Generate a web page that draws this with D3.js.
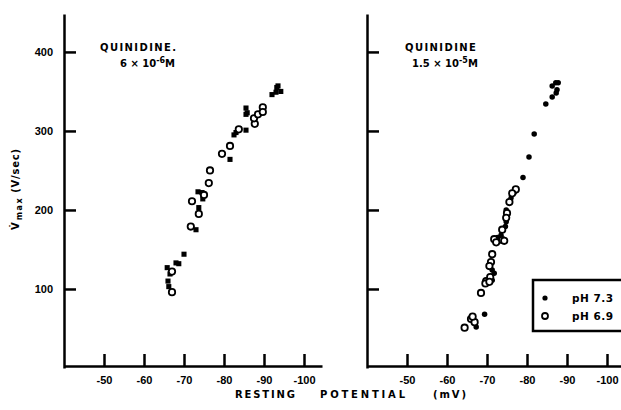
<!DOCTYPE html>
<meta charset="utf-8">
<script src="https://d3js.org/d3.v7.min.js"></script>
<style type="text/css">
body { margin: 0; background: #fff; }
.axis path, .axis line { stroke: #000; stroke-width: 2.5px; }
.axis text { font-family: "Liberation Sans", Arial, sans-serif; font-weight: bold; font-size: 11px; fill: #000; }
.note, .xlabel, .ylabel, .legend text { font-family: "DejaVu Sans", sans-serif; font-weight: bold; fill: #000; }
</style>
<body></body>
<script>

// resting potential (mV), Vmax (V/sec)
var xTicks = [-50, -60, -70, -80, -90, -100];
var yTicks = [100, 200, 300, 400];

// quinidine 6e-6 M
var leftPH73 = [
  [-65.8, 127], [-66, 110], [-66.2, 103], [-66.5, 119], [-68, 133], [-68.7, 132],
  [-70, 144], [-73, 175], [-73.5, 223], [-73.7, 203], [-74.7, 214], [-74.5, 222],
  [-81.5, 264], [-82.5, 295], [-83, 298], [-85.5, 301], [-85.5, 329], [-85.5, 321],
  [-85.8, 323], [-92, 346], [-93, 349], [-93.2, 355], [-94.2, 350], [-93.5, 357]
];
var leftPH69 = [
  [-67, 96], [-67, 122], [-71.7, 179], [-72, 211], [-73.7, 195], [-75, 219],
  [-76.2, 234], [-76.5, 250], [-79.5, 271], [-81.5, 281], [-83.7, 302], [-87.7, 309],
  [-87.5, 316], [-88.5, 321], [-89.7, 330], [-89.7, 324]
];

// quinidine 1.5e-5 M
var rightPH73 = [
  [-76.8, 222], [-76, 215], [-74.8, 200], [-74.8, 185], [-74.6, 179], [-73.5, 168],
  [-72.6, 165], [-71.3, 124], [-69.8, 111], [-69.4, 68], [-67.3, 52], [-71.3, 111],
  [-71.8, 120], [-79, 241], [-80.5, 267], [-81.8, 296], [-84.7, 334], [-86.3, 357],
  [-87.2, 361], [-87.8, 361], [-86.3, 343], [-87.3, 348], [-87.5, 352]
];
var rightPH69 = [
  [-77.2, 226], [-76.3, 221], [-75.6, 210], [-75, 196], [-74.8, 190], [-73.8, 175],
  [-73.8, 162], [-71.8, 163], [-72.3, 159], [-74.3, 161], [-71.3, 144], [-71, 134],
  [-70.6, 129], [-69.8, 110], [-70.8, 115], [-68.5, 95], [-69.6, 107], [-70.6, 109],
  [-64.4, 51], [-66, 62], [-66.9, 58], [-66.4, 65]
];

var width = 621, height = 410;
var svg = d3.select("body").append("svg")
    .attr("width", width)
    .attr("height", height);

var yScale = d3.scaleLinear().domain([0, 448]).range([368, 14]);

var panels = [
  {x: d3.scaleLinear().domain([-40, -104.5]).range([64, 322]), filled: leftPH73, open: leftPH69,
   labels: true, shape: d3.symbolSquare,
   note1: "QUINIDINE.", noteX: 100, note2: ["6 \u00d7 10", "-6", "M"], note2X: 120},
  {x: d3.scaleLinear().domain([-40, -103.5]).range([367, 621]), filled: rightPH73, open: rightPH69,
   labels: false, shape: d3.symbolCircle,
   note1: "QUINIDINE", noteX: 405, note2: ["1.5 \u00d7 10", "-5", "M"], note2X: 412}
];

panels.forEach(function(p) {
  var xAxis = d3.axisBottom(p.x)
    .tickValues(xTicks)
    .tickFormat(function(d) { return String(d); }) // plain hyphen like the print
    .tickSize(-12)
    .tickSizeOuter(0)
    .tickPadding(10);

  var yAxis = d3.axisLeft(yScale)
    .tickValues(yTicks)
    .tickSize(-12)
    .tickSizeOuter(0)
    .tickPadding(11);
  if (!p.labels) yAxis.tickFormat("");

  svg.append("g")
      .attr("class", "x axis")
      .attr("transform", "translate(0,366)")
      .call(xAxis);

  svg.append("g")
      .attr("class", "y axis")
      .attr("transform", "translate(" + p.x.range()[0] + ",0)")
      .call(yAxis);

  svg.append("g").selectAll("path")
    .data(p.filled).enter().append("path")
      .attr("transform", function(d) { return "translate(" + p.x(d[0]) + "," + yScale(d[1]) + ")"; })
      .attr("d", d3.symbol().type(p.shape).size(p.shape === d3.symbolSquare ? 26 : 24))
      .style("fill", "#000");

  svg.append("g").selectAll("circle")
    .data(p.open).enter().append("circle")
      .attr("cx", function(d) { return p.x(d[0]); })
      .attr("cy", function(d) { return yScale(d[1]); })
      .attr("r", 3.2)
      .style("fill", "#fff")
      .style("stroke", "#000")
      .style("stroke-width", 1.8);

  svg.append("text")
      .attr("class", "note")
      .attr("x", p.noteX)
      .attr("y", 51)
      .style("font-size", "10px")
      .style("letter-spacing", "1.4px")
      .text(p.note1);

  var n2 = svg.append("text")
      .attr("class", "note")
      .attr("x", p.note2X)
      .attr("y", 67)
      .style("font-size", "10px");
  n2.append("tspan").text(p.note2[0]);
  n2.append("tspan").attr("dy", -4).style("font-size", "8px").text(p.note2[1]);
  n2.append("tspan").attr("dy", 4).text(p.note2[2]);
});

// x label
[["RESTING", 235, 60], ["POTENTIAL", 320, 85], ["(mV)", 433, 33]].forEach(function(w) {
  svg.append("text")
      .attr("class", "xlabel")
      .attr("x", w[1])
      .attr("y", 398)
      .attr("textLength", w[2])
      .attr("lengthAdjust", "spacing")
      .style("font-size", "10px")
      .text(w[0]);
});

// y label
var yl = svg.append("text")
    .attr("class", "ylabel")
    .attr("transform", "translate(19,230) rotate(-90)")
    .style("font-size", "10px");
yl.append("tspan").text("V\u0307");
yl.append("tspan").attr("dy", 3).attr("dx", 2).style("font-size", "8px").style("letter-spacing", "1.5px").text("max");
yl.append("tspan").attr("dy", -3).attr("dx", 4).style("letter-spacing", "0.8px").text("(V/sec)");

// legend
var legend = svg.append("g").attr("class", "legend");
legend.append("rect")
    .attr("x", 533).attr("y", 280)
    .attr("width", 110).attr("height", 51)
    .style("fill", "#fff")
    .style("stroke", "#000")
    .style("stroke-width", 2.5);
legend.append("circle").attr("cx", 545).attr("cy", 298).attr("r", 2.6).style("fill", "#000");
legend.append("circle").attr("cx", 545).attr("cy", 316).attr("r", 3)
    .style("fill", "#fff").style("stroke", "#000").style("stroke-width", 1.8);
legend.append("text").attr("x", 572).attr("y", 302).style("font-size", "10.5px").style("letter-spacing", "0.5px").text("pH  7.3");
legend.append("text").attr("x", 572).attr("y", 320).style("font-size", "10.5px").style("letter-spacing", "0.5px").text("pH  6.9");

</script>
